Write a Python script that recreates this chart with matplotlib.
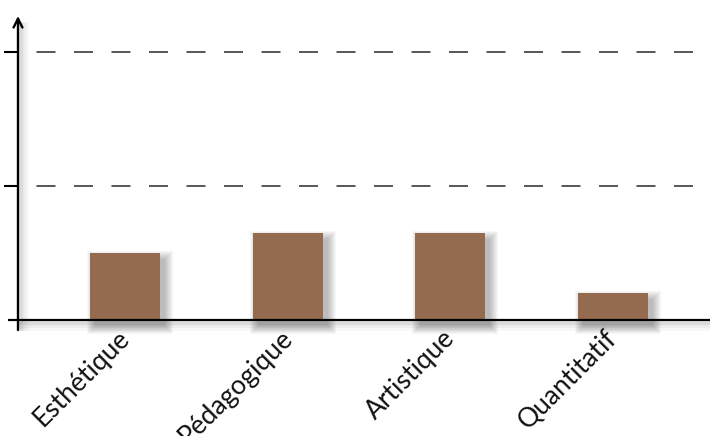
import matplotlib
matplotlib.use('Agg')
import matplotlib.pyplot as plt
from matplotlib.patches import Rectangle
from matplotlib.transforms import IdentityTransform, ScaledTranslation

plt.rcParams['lines.scale_dashes'] = False

categories = ['Esthétique', 'Pédagogique', 'Artistique', 'Quantitatif']
values = [5.0, 6.5, 6.5, 2.0]
grid_levels = [10, 20]

W, H = 710, 436
fig = plt.figure(figsize=(W / 100, H / 100), dpi=100)
fig.patch.set_facecolor('white')
ax = fig.add_axes([18 / W, (H - 320) / H, 1 - 18 / W, (320 - 16) / H])
ax.set_xlim(-0.661, 3.6)
ax.set_ylim(0, 22.7)
for s in ax.spines.values():
    s.set_visible(False)

ax.set_yticks(grid_levels)
ax.tick_params(axis='y', length=10, width=1.5, direction='out', labelleft=False, color='black')

# dashed grid lines
px2pt = 72 / 100
for g in grid_levels:
    ax.axhline(g, color='#4a4a4a', lw=1.3, zorder=1,
               linestyle=(19 * px2pt, (19 * px2pt, 18.5 * px2pt)))

bars = ax.bar(range(len(categories)), values, width=0.431, color='#946B4F', zorder=3)

# soft shadows for bars (display pixel coordinates)
fig.canvas.draw()
for b in bars:
    (x0, y0), (x1, y1) = ax.transData.transform([(b.get_x(), 0), (b.get_x() + b.get_width(), b.get_height())])
    for e in range(0, 9):
        r = Rectangle((x0 + 5 - e, y0 - 6 - e), (x1 - x0) + 2 * e, (y1 - y0) + 2 * e,
                      transform=IdentityTransform(), facecolor='black', alpha=0.03,
                      edgecolor='none', zorder=2, clip_on=False)
        ax.add_artist(r)

# axis shadows
for off, lw, a in [(3, 2.5, 0.07), (4, 5, 0.04), (5, 8, 0.03)]:
    ax.plot([off / 692, off / 692], [-10 / 304, 0.98], transform=ax.transAxes, color='black',
            lw=lw, alpha=a, clip_on=False, zorder=2, solid_capstyle='butt')
    ax.plot([0, 1], [-off / 304, -off / 304], transform=ax.transAxes, color='black',
            lw=lw, alpha=a, clip_on=False, zorder=2, solid_capstyle='butt')

# baseline
ax.plot([-10 / 692, 1], [0, 0], transform=ax.transAxes, color='black', lw=1.6,
        clip_on=False, zorder=5, solid_capstyle='butt')
# y axis with arrow
ax.annotate('', xy=(0, 1.0), xytext=(0, -10 / 304), xycoords='axes fraction',
            arrowprops=dict(arrowstyle='->', lw=1.7, color='black', mutation_scale=16,
                            shrinkA=0, shrinkB=0), zorder=6)

ax.set_xticks(range(len(categories)))
ax.set_xticklabels(categories, rotation=45, ha='right', va='top', rotation_mode='anchor',
                   fontfamily='Lato', fontsize=19, color='#111111')
ax.tick_params(axis='x', length=0, pad=4)
shift = ScaledTranslation(-8 / 100, 0, fig.dpi_scale_trans)
for lbl in ax.get_xticklabels():
    lbl.set_transform(lbl.get_transform() + shift)

fig.savefig('out.png', dpi=100, facecolor='white')
